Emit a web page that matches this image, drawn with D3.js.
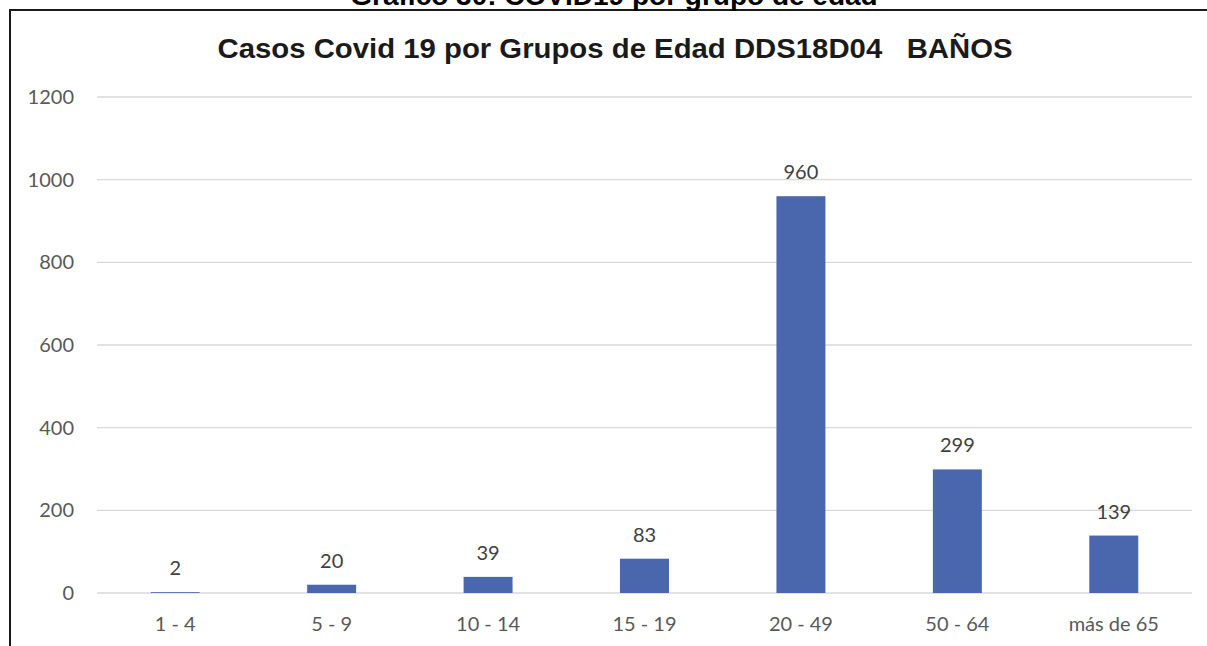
<!DOCTYPE html>
<html>
<head>
<meta charset="utf-8">
<script src="https://cdn.jsdelivr.net/npm/d3@7"></script>
<style>
  body { margin: 0; background: #fff; }
  svg { display: block; }
</style>
</head>
<body>
<div id="chart"></div>
<script>
// data
const categories = ["1 - 4", "5 - 9", "10 - 14", "15 - 19", "20 - 49", "50 - 64", "más de 65"];
const casos = [2, 20, 39, 83, 960, 299, 139];
const yTicks = [0, 200, 400, 600, 800, 1000, 1200];

const W = 1207, H = 646;
const svg = d3.select("#chart").append("svg")
  .attr("width", W)
  .attr("height", H);

// outer frame
svg.append("rect")
  .attr("x", 10).attr("y", 10)
  .attr("width", W + 10).attr("height", H + 10)
  .attr("fill", "none")
  .attr("stroke", "#1a1a1a")
  .attr("stroke-width", 2);

// caption, cut by the top edge of the page
svg.append("text")
  .attr("x", 614).attr("y", 5)
  .attr("text-anchor", "middle")
  .attr("font-family", "Liberation Sans, Arial, sans-serif")
  .attr("font-weight", "bold")
  .attr("font-size", 28)
  .attr("fill", "#000")
  .text("Grafico 30: COVID19 por grupo de edad");

// chart title
svg.append("text")
  .attr("x", 615).attr("y", 58)
  .attr("text-anchor", "middle")
  .attr("font-family", "Liberation Sans, Arial, sans-serif")
  .attr("font-weight", "bold")
  .attr("font-size", 28)
  .attr("fill", "#1a1a1a")
  .attr("textLength", 795)
  .attr("lengthAdjust", "spacingAndGlyphs")
  .style("white-space", "pre")
  .text("Casos Covid 19 por Grupos de Edad DDS18D04   BAÑOS");

const plotLeft = 97, plotRight = 1192, plotTop = 97, plotBottom = 593;

const x = d3.scaleBand()
  .domain(categories)
  .range([plotLeft, plotRight])
  .paddingInner(0.687)
  .paddingOuter(0.687 / 2);

const y = d3.scaleLinear()
  .domain([0, 1200])
  .range([plotBottom, plotTop]);

const font = "Lato, 'Open Sans', sans-serif";

// gridlines
svg.append("g")
  .selectAll("line")
  .data(yTicks)
  .join("line")
  .attr("x1", plotLeft).attr("x2", plotRight)
  .attr("y1", d => y(d)).attr("y2", d => y(d))
  .attr("stroke", "#d9d9d9")
  .attr("stroke-width", 1.3);

// y axis labels
const yAxis = svg.append("g")
  .attr("transform", `translate(${plotLeft - 23},0)`)
  .call(d3.axisLeft(y).tickValues(yTicks).tickFormat(d3.format("d")).tickSize(0).tickPadding(0));
yAxis.select(".domain").remove();
yAxis.selectAll("text")
  .attr("font-family", font)
  .attr("font-size", 20)
  .attr("fill", "#595959");

// bars
svg.append("g")
  .selectAll("rect")
  .data(casos)
  .join("rect")
  .attr("x", (d, i) => x(categories[i]))
  .attr("y", d => y(d))
  .attr("width", x.bandwidth())
  .attr("height", d => plotBottom - y(d))
  .attr("fill", "#4a66ac");

// value labels
svg.append("g")
  .selectAll("text")
  .data(casos)
  .join("text")
  .attr("x", (d, i) => x(categories[i]) + x.bandwidth() / 2)
  .attr("y", d => y(d) - 17)
  .attr("text-anchor", "middle")
  .attr("font-family", font)
  .attr("font-size", 20)
  .attr("fill", "#404040")
  .text(d => d);

// x axis labels
const xAxis = svg.append("g")
  .attr("transform", `translate(0,${plotBottom + 38})`)
  .call(d3.axisBottom(x).tickSize(0).tickPadding(0));
xAxis.select(".domain").remove();
xAxis.selectAll("text")
  .attr("dy", 0)
  .attr("font-family", font)
  .attr("font-size", 20)
  .attr("fill", "#595959");
</script>
</body>
</html>
